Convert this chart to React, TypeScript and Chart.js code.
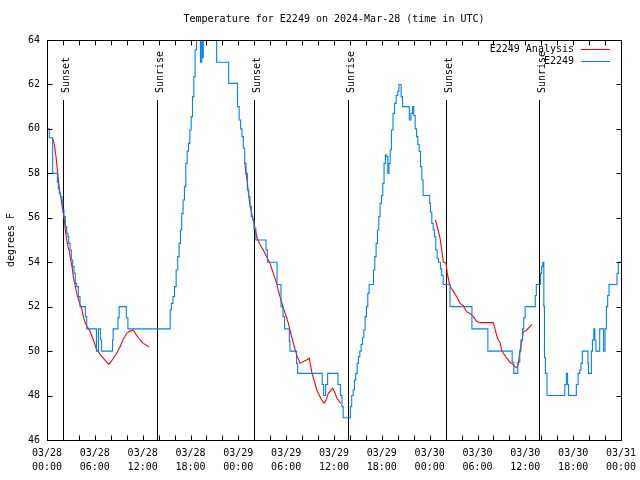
import React, { useEffect, useRef } from 'react';
import { Chart, registerables } from 'chart.js';

Chart.register(...registerables);

const TITLE = 'Temperature for E2249 on 2024-Mar-28 (time in UTC)';
const Y_TITLE = 'degrees F';
const ANALYSIS_NAME = 'E2249 Analysis';
const OBS_NAME = 'E2249';

// x axis: hours since 03/28 00:00 UTC
const xTickHours = [0, 6, 12, 18, 24, 30, 36, 42, 48, 54, 60, 66, 72];
const xTickDates = ['03/28', '03/28', '03/28', '03/28', '03/29', '03/29', '03/29', '03/29', '03/30', '03/30', '03/30', '03/30', '03/31'];
const xTickTimes = ['00:00', '06:00', '12:00', '18:00', '00:00', '06:00', '12:00', '18:00', '00:00', '06:00', '12:00', '18:00', '00:00'];
const yTicks = [46, 48, 50, 52, 54, 56, 58, 60, 62, 64];

const sunsetHours = [2.03, 26.0, 50.05];
const sunriseHours = [13.75, 37.7, 61.75];

// observed temperature (level starting at given hour)
const obsPoints: [number, number][] = [
  [0, 60.0], [0.29, 59.6], [0.71, 58.0], [1.3, 57.6], [1.42, 57.3], [1.55, 57.1], [1.71, 56.95], [1.88, 56.8],
  [1.97, 56.35], [2.13, 56.05], [2.3, 55.6], [2.47, 55.3], [2.63, 55.15], [2.72, 54.85], [2.89, 54.55], [3.05, 54.1],
  [3.22, 53.8], [3.39, 53.5], [3.55, 53.05], [3.72, 52.9], [3.93, 52.45], [4.14, 52.0], [4.81, 51.55], [4.98, 51.0],
  [6.2, 50.0], [6.45, 51.0], [6.7, 50.5], [6.85, 50.0], [8.22, 50.5], [8.3, 51.0], [8.9, 51.5], [9.05, 52.0],
  [9.95, 51.5], [10.15, 51.0], [15.45, 51.85], [15.6, 52.15], [15.8, 52.45], [16.0, 52.9], [16.2, 53.65], [16.4, 54.25],
  [16.57, 54.85], [16.74, 55.45], [16.9, 56.2], [17.07, 56.8], [17.24, 57.4], [17.41, 58.45], [17.58, 59.0], [17.75, 59.35],
  [17.92, 59.95], [18.08, 60.55], [18.25, 61.45], [18.42, 62.35], [18.58, 63.55], [18.75, 64.5], [19.25, 63.0], [19.4, 64.5],
  [19.48, 63.2], [19.6, 64.6], [20.9, 64.2], [21.28, 63.0], [22.79, 62.05], [23.9, 61.0], [24.1, 60.4], [24.29, 60.0],
  [24.46, 59.65], [24.63, 59.13], [24.8, 58.45], [24.96, 58.0], [25.13, 57.25], [25.3, 56.95], [25.46, 56.5], [25.63, 56.05],
  [25.8, 55.9], [25.96, 55.5], [26.2, 55.0], [27.47, 54.55], [27.64, 54.0], [28.85, 53.0], [29.35, 52.0], [29.6, 51.55],
  [29.8, 51.0], [30.4, 50.45], [30.48, 50.0], [31.3, 49.45], [31.44, 49.0], [34.52, 48.5], [34.7, 48.0], [34.95, 48.5],
  [35.2, 49.0], [36.5, 48.5], [36.8, 48.0], [37.0, 47.5], [37.15, 47.0], [38.05, 47.5], [38.22, 48.0], [38.4, 48.25],
  [38.56, 48.7], [38.73, 49.0], [38.9, 49.45], [39.07, 49.75], [39.24, 50.0], [39.4, 50.3], [39.57, 50.6], [39.74, 50.95],
  [39.9, 51.55], [40.07, 52.0], [40.24, 52.6], [40.4, 53.0], [40.95, 53.65], [41.12, 54.25], [41.28, 54.85], [41.45, 55.45],
  [41.62, 56.05], [41.78, 56.65], [41.95, 57.0], [42.12, 57.55], [42.28, 58.45], [42.45, 58.83], [42.55, 58.75], [42.75, 58.0],
  [42.9, 58.45], [43.05, 59.05], [43.2, 59.95], [43.4, 60.7], [43.6, 61.15], [43.8, 61.5], [44.0, 61.7], [44.15, 62.0],
  [44.42, 61.45], [44.6, 61.0], [45.45, 60.4], [45.65, 60.7], [45.85, 61.0], [46.0, 60.6], [46.18, 60.0], [46.35, 59.65],
  [46.52, 59.3], [46.68, 58.98], [46.85, 58.3], [47.02, 57.7], [47.18, 57.0], [48.0, 56.65], [48.1, 56.25], [48.27, 55.75],
  [48.44, 55.45], [48.6, 55.15], [48.77, 54.55], [48.94, 54.18], [49.1, 54.0], [49.35, 53.7], [49.5, 53.4], [49.7, 53.0],
  [50.55, 52.0], [53.3, 51.0], [55.3, 50.0], [58.35, 49.5], [58.55, 49.0], [59.05, 49.5], [59.3, 50.0], [59.45, 50.5],
  [59.65, 51.0], [59.8, 51.5], [59.98, 52.0], [61.25, 52.5], [61.38, 53.0], [61.9, 53.5], [62.05, 53.8], [62.2, 54.0],
  [62.32, 52.0], [62.4, 49.7], [62.52, 49.0], [62.72, 48.0], [64.95, 48.5], [65.15, 49.0], [65.3, 48.5], [65.42, 48.0],
  [66.4, 48.5], [66.62, 49.0], [66.82, 49.15], [66.98, 49.45], [67.15, 50.0], [67.85, 49.45], [67.92, 49.0], [68.28, 50.0],
  [68.42, 50.5], [68.6, 51.0], [68.72, 50.5], [68.85, 50.0], [69.33, 51.0], [69.82, 50.0], [70.0, 51.0], [70.17, 52.0],
  [70.33, 52.5], [70.5, 53.0], [71.5, 53.5], [71.67, 54.0], [72, 54.0],
];

// analysis temperature, three separate evening/night runs
const analysisRun1: [number, number][] = [
  [0.63, 59.58], [0.79, 59.5], [0.96, 59.2], [1.13, 58.75], [1.3, 58.15], [1.46, 57.6], [1.63, 57.1], [1.8, 56.8],
  [1.96, 56.35], [2.13, 56.05], [2.3, 55.45], [2.47, 55.0], [2.63, 54.7], [2.8, 54.5], [2.97, 54.1], [3.14, 53.8],
  [3.3, 53.35], [3.47, 53.05], [3.64, 52.75], [3.8, 52.5], [3.97, 52.3], [4.14, 52.1], [4.39, 51.85], [4.56, 51.55],
  [4.81, 51.25], [5.06, 51.1], [5.39, 50.9], [5.6, 50.7], [5.81, 50.5], [6.02, 50.3], [6.23, 50.05], [6.44, 50.0],
  [6.65, 49.85], [7.06, 49.68], [7.49, 49.5], [7.74, 49.4], [7.99, 49.5], [8.32, 49.68], [8.74, 49.9], [9.16, 50.2],
  [9.57, 50.55], [10.0, 50.8], [10.41, 50.9], [10.83, 50.95], [11.25, 50.7], [11.67, 50.5], [12.08, 50.35], [12.5, 50.25],
  [12.83, 50.2],
];
const analysisRun2: [number, number][] = [
  [24.8, 58.52], [24.96, 58.0], [25.13, 57.6], [25.3, 57.0], [25.46, 56.6], [25.67, 56.2], [25.88, 55.9], [26.05, 55.6],
  [26.22, 55.3], [26.38, 55.07], [26.72, 54.8], [27.13, 54.55], [27.55, 54.25], [27.97, 53.95], [28.39, 53.5], [28.81, 53.05],
  [29.0, 52.75], [29.23, 52.45], [29.64, 51.93], [30.07, 51.5], [30.27, 51.25], [30.48, 50.95], [30.9, 50.35], [31.32, 49.83],
  [31.74, 49.45], [32.15, 49.53], [32.57, 49.6], [32.9, 49.68], [33.24, 49.0], [33.62, 48.55], [33.83, 48.25], [34.03, 48.1],
  [34.46, 47.8], [34.75, 47.65], [35.0, 47.8], [35.29, 48.1], [35.84, 48.33], [36.13, 48.1], [36.34, 47.9], [36.84, 47.65],
];
const analysisRun3: [number, number][] = [
  [48.71, 55.9], [48.88, 55.7], [49.05, 55.45], [49.3, 55.08], [49.51, 54.55], [49.71, 54.0], [50.05, 53.95], [50.21, 53.5],
  [50.46, 53.05], [50.71, 52.83], [50.96, 52.7], [51.39, 52.45], [51.81, 52.15], [52.22, 52.05], [52.64, 51.77], [53.06, 51.7],
  [53.48, 51.55], [53.9, 51.33], [54.31, 51.28], [55.98, 51.28], [56.19, 51.0], [56.41, 50.7], [56.61, 50.5], [56.82, 50.4],
  [57.03, 50.05], [57.24, 49.9], [57.45, 49.8], [57.66, 49.68], [57.87, 49.6], [58.08, 49.5], [58.29, 49.45], [58.7, 49.3],
  [58.91, 49.25], [59.12, 49.4], [59.34, 50.05], [59.55, 50.4], [59.74, 50.87], [60.17, 50.95], [60.58, 51.1], [60.79, 51.2],
];

const RED = '#ff0000';
const BLUE = '#0080ff';
const FONT_FAMILY = '"DejaVu Sans Mono", "Liberation Mono", monospace';
const FONT = '10px ' + FONT_FAMILY;

const toXY = (pts: [number, number][]) => pts.map(([x, y]) => ({ x, y }));

const decorPlugin = {
  id: 'decor',
  beforeDatasetsDraw(chart: any) {
    const { ctx, chartArea: a, scales } = chart;
    const xs = scales.x;
    ctx.save();
    ctx.strokeStyle = '#000';
    ctx.fillStyle = '#000';
    ctx.lineWidth = 1;
    ctx.font = FONT;
    const events: [number, string][] = [
      ...sunsetHours.map((h) => [h, 'Sunset'] as [number, string]),
      ...sunriseHours.map((h) => [h, 'Sunrise'] as [number, string]),
    ];
    for (const [h, label] of events) {
      const px = Math.round(xs.getPixelForValue(h)) + 0.5;
      ctx.beginPath();
      ctx.moveTo(px, a.top + 60);
      ctx.lineTo(px, a.bottom);
      ctx.stroke();
      ctx.save();
      ctx.translate(px + 5, a.top + 53);
      ctx.rotate(-Math.PI / 2);
      ctx.textAlign = 'left';
      ctx.textBaseline = 'alphabetic';
      ctx.fillText(label, 0, 0);
      ctx.restore();
    }
    ctx.restore();
  },
  afterDraw(chart: any) {
    const { ctx, chartArea: a, scales } = chart;
    const xs = scales.x;
    const ys = scales.y;
    ctx.save();
    ctx.strokeStyle = '#000';
    ctx.fillStyle = '#000';
    ctx.lineWidth = 1;
    const L = Math.round(a.left) + 0.5;
    const R = Math.round(a.right) + 0.5;
    const T = Math.round(a.top) + 0.5;
    const B = Math.round(a.bottom) + 0.5;
    ctx.strokeRect(L, T, R - L, B - T);
    const tick = 5;
    ctx.beginPath();
    for (let h = 0; h <= 72; h += 2) {
      const px = Math.round(xs.getPixelForValue(h)) + 0.5;
      ctx.moveTo(px, B);
      ctx.lineTo(px, B - tick);
      ctx.moveTo(px, T);
      ctx.lineTo(px, T + tick);
    }
    for (const v of yTicks) {
      const py = Math.round(ys.getPixelForValue(v)) + 0.5;
      ctx.moveTo(L, py);
      ctx.lineTo(L + tick, py);
      ctx.moveTo(R, py);
      ctx.lineTo(R - tick, py);
    }
    ctx.stroke();

    ctx.font = FONT;
    ctx.textAlign = 'center';
    ctx.textBaseline = 'middle';
    ctx.fillText(TITLE, (a.left + a.right) / 2, 19);
    ctx.save();
    ctx.translate(11, (a.top + a.bottom) / 2);
    ctx.rotate(-Math.PI / 2);
    ctx.fillText(Y_TITLE, 0, 0);
    ctx.restore();
    // legend
    const entries: [string, string][] = [[ANALYSIS_NAME, RED], [OBS_NAME, BLUE]];
    entries.forEach(([name, color], i) => {
      const row = 49 + i * 12;
      ctx.fillStyle = '#000';
      ctx.textAlign = 'right';
      ctx.textBaseline = 'middle';
      ctx.fillText(name, 574, row + 0.5);
      ctx.fillStyle = color;
      ctx.fillRect(581, row, 29, 1);
    });
    ctx.restore();
  },
};

export default function App() {
  const ref = useRef<HTMLCanvasElement>(null);
  useEffect(() => {
    const analysisData = [
      ...toXY(analysisRun1),
      { x: 18.5, y: null as any },
      ...toXY(analysisRun2),
      { x: 42.5, y: null as any },
      ...toXY(analysisRun3),
    ];
    const chart = new Chart(ref.current as HTMLCanvasElement, {
      type: 'line',
      data: {
        datasets: [
          {
            label: OBS_NAME,
            data: toXY(obsPoints),
            borderColor: BLUE,
            borderWidth: 1.1,
            pointRadius: 0,
            fill: false,
            stepped: true,
            tension: 0,
          },
          {
            label: ANALYSIS_NAME,
            data: analysisData,
            borderColor: RED,
            borderWidth: 1.1,
            pointRadius: 0,
            fill: false,
            spanGaps: false,
            tension: 0,
          },
        ],
      },
      options: {
        animation: false,
        responsive: false,
        maintainAspectRatio: false,
        parsing: true,
        layout: { padding: { top: 40, right: 19, left: 0, bottom: 0 } },
        plugins: {
          legend: { display: false },
          tooltip: { enabled: false },
          title: { display: false },
        },
        scales: {
          x: {
            type: 'linear',
            min: 0,
            max: 72,
            grid: { display: false, drawTicks: false },
            border: { display: false },
            afterFit: (s: any) => {
              s.height = 40;
              s.paddingLeft = 0;
              s.paddingRight = 0;
            },
            afterBuildTicks: (s: any) => {
              s.ticks = xTickHours.map((v) => ({ value: v }));
            },
            ticks: {
              autoSkip: false,
              maxRotation: 0,
              minRotation: 0,
              padding: 6,
              color: '#000',
              font: { family: FONT_FAMILY, size: 10, lineHeight: 1.4 },
              callback: (v: any) => {
                const i = xTickHours.indexOf(Number(v));
                return i >= 0 ? [xTickDates[i], xTickTimes[i]] : '';
              },
            },
          },
          y: {
            type: 'linear',
            min: 46,
            max: 64,
            grid: { display: false, drawTicks: false },
            border: { display: false },
            afterFit: (s: any) => {
              s.width = 47;
              s.paddingTop = 0;
              s.paddingBottom = 0;
            },
            afterBuildTicks: (s: any) => {
              s.ticks = yTicks.map((v) => ({ value: v }));
            },
            ticks: {
              padding: 7,
              color: '#000',
              font: { family: FONT_FAMILY, size: 10 },
              callback: (v: any) => String(v),
            },
          },
        },
      },
      plugins: [decorPlugin],
    } as any);
    return () => chart.destroy();
  }, []);
  return (
    <div style={{ position: 'absolute', left: 0, top: 0, width: 640, height: 480, background: '#fff' }}>
      <canvas ref={ref} width={640} height={480} style={{ display: 'block', width: 640, height: 480 }} />
    </div>
  );
}
